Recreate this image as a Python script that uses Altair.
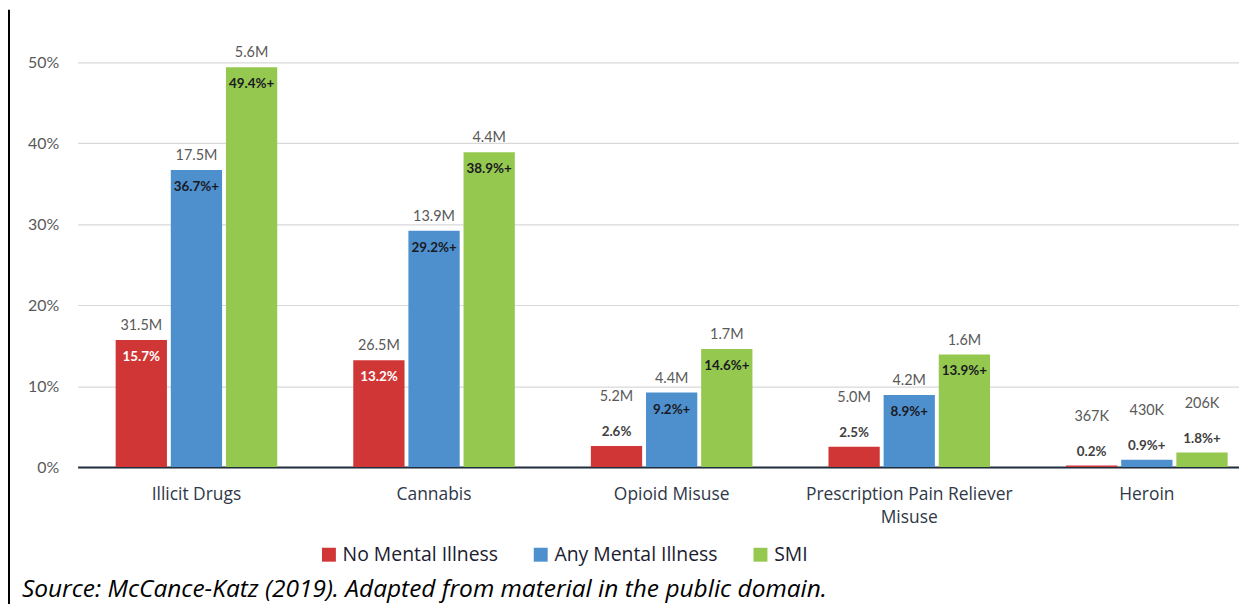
import altair as alt
import pandas as pd

categories = ["Illicit Drugs", "Cannabis", "Opioid Misuse",
              "Prescription Pain Reliever Misuse", "Heroin"]
groups = ["No Mental Illness", "Any Mental Illness", "SMI"]
pct_no = [15.7, 13.2, 2.6, 2.5, 0.2]
pct_any = [36.7, 29.2, 9.2, 8.9, 0.9]
pct_smi = [49.4, 38.9, 14.6, 13.9, 1.8]
count_no = ["31.5M", "26.5M", "5.2M", "5.0M", "367K"]
count_any = ["17.5M", "13.9M", "4.4M", "4.2M", "430K"]
count_smi = ["5.6M", "4.4M", "1.7M", "1.6M", "206K"]
flag_no = ["", "", "", "", ""]
flag_any = ["+", "+", "+", "+", "+"]
flag_smi = ["+", "+", "+", "+", "+"]
colors = ["#D13636", "#4E90CD", "#95C84F"]
y_ticks = [0, 10, 20, 30, 40, 50]
source_text = "Source: McCance-Katz (2019). Adapted from material in the public domain."

rows = []
for g, pcts, counts, flags in zip(groups, [pct_no, pct_any, pct_smi],
                                  [count_no, count_any, count_smi],
                                  [flag_no, flag_any, flag_smi]):
    for c, p, n, f in zip(categories, pcts, counts, flags):
        rows.append({"category": c, "group": g, "pct": p, "count": n,
                     "pct_label": f"{p:.1f}%{f}"})
df = pd.DataFrame(rows)

FONT = "Lato"
FONT2 = "Open Sans"

x_enc = alt.X(
    "category:N", sort=categories,
    scale=alt.Scale(paddingInner=0.32, paddingOuter=0.104, align=0.77, round=False),
    axis=alt.Axis(title=None, ticks=False, grid=False, domainColor="#1F2D3D",
                  domainWidth=2, labelFontSize=17.5, labelColor="#2E3847",
                  labelFont=FONT2, labelPadding=19, labelAngle=0,
                  labelLineHeight=23, labelLimit=400,
                  labelExpr="datum.value == 'Prescription Pain Reliever Misuse' ? ['Prescription Pain Reliever', 'Misuse'] : datum.value"),
)
xo_enc = alt.XOffset("group:N", sort=groups,
                     scale=alt.Scale(paddingInner=0.07, round=False))
y_enc = alt.Y(
    "pct:Q", scale=alt.Scale(domain=[0, 50], nice=False),
    axis=alt.Axis(title=None, values=y_ticks, labelExpr="datum.value + '%'",
                  ticks=False, domain=False, gridColor="#D9D9D9", gridWidth=1.2,
                  labelFontSize=16, labelColor="#595959", labelFont=FONT,
                  labelPadding=19),
)

base = alt.Chart(df).encode(x=x_enc, xOffset=xo_enc, y=y_enc)

bars = base.mark_bar().encode(
    color=alt.Color(
        "group:N", sort=groups,
        scale=alt.Scale(domain=groups, range=colors),
        legend=alt.Legend(orient="none", legendX=243, legendY=485,
                          direction="horizontal", title=None,
                          symbolType="square", symbolSize=196,
                          symbolStrokeWidth=0, symbolOpacity=1,
                          labelFontSize=19.5, labelFont=FONT2, labelColor="#1A2030",
                          columnPadding=33, labelOffset=4, labelLimit=400),
    )
)

big = alt.datum.pct >= 5
small = alt.datum.pct < 5

count_big = base.transform_filter(big).mark_text(
    dy=-14, baseline="middle", fontSize=14.5, font=FONT, color="#595959"
).encode(text="count:N")
count_small = base.transform_filter(small).mark_text(
    dy=-49, baseline="middle", fontSize=14.5, font=FONT, color="#595959"
).encode(text="count:N")

pct_big = base.transform_filter(big).mark_text(
    dy=17, baseline="middle", fontSize=13.5, font=FONT, fontWeight="bold"
).encode(
    text="pct_label:N",
    color=alt.condition(alt.datum.group == "No Mental Illness",
                        alt.value("white"), alt.value("#1A1A24")),
)
pct_small = base.transform_filter(small).mark_text(
    dy=-14, baseline="middle", fontSize=13.5, font=FONT, fontWeight="bold",
    color="#404040"
).encode(text="pct_label:N")

border = alt.Chart(pd.DataFrame({"k": [0]})).mark_rule(
    color="black", strokeWidth=2
).encode(x=alt.value(-69), y=alt.value(-53), y2=alt.value(551))

source = alt.Chart(pd.DataFrame({"t": [source_text]})).mark_text(
    align="left", baseline="middle", fontSize=24.6, fontStyle="italic",
    font=FONT2, color="black"
).encode(text="t:N", x=alt.value(-56), y=alt.value(531))

chart = alt.layer(bars, count_big, count_small, pct_big, pct_small, border, source).properties(
    width=1168, height=407,
    padding={"left": 70, "top": 53, "right": 0, "bottom": 136},
    autosize=alt.AutoSizeParams(type="none"),
    background="white",
).configure_view(stroke=None)

chart.save("out.html", embed_options={"renderer": "svg", "actions": False})
